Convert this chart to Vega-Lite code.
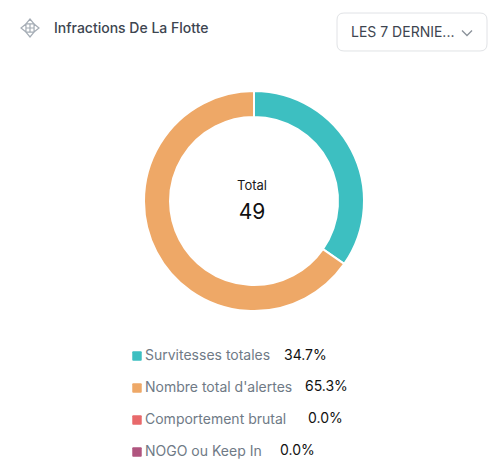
{"$schema":"https://vega.github.io/schema/vega-lite/v6.json","width":220,"height":220,"padding":{"left":144,"top":91,"right":135,"bottom":164},"autosize":"none","background":"white","config":{"view":{"stroke":null},"font":"Inter"},"title":{"text":"Infractions De La Flotte","anchor":"start","frame":"group","dx":-90,"offset":-25,"font":"Inter","fontSize":14,"fontWeight":500,"color":"#3d4550"},"datasets":{"cats":[{"name":"Survitesses totales","count":17,"pct":"34.7%","order":1},{"name":"Nombre total d'alertes","count":32,"pct":"65.3%","order":2},{"name":"Comportement brutal","count":0,"pct":"0.0%","order":3},{"name":"NOGO ou Keep In","count":0,"pct":"0.0%","order":4}]},"data":{"name":"cats"},"encoding":{},"layer":[{"mark":{"type":"arc","outerRadius":110,"innerRadius":84,"stroke":"white","strokeWidth":2},"encoding":{"theta":{"field":"count","type":"quantitative","stack":true,"scale":{"domain":[0,49]}},"order":{"field":"order","type":"quantitative"},"color":{"field":"name","type":"nominal","sort":["Survitesses totales","Nombre total d'alertes","Comportement brutal","NOGO ou Keep In"],"scale":{"domain":["Survitesses totales","Nombre total d'alertes","Comportement brutal","NOGO ou Keep In"],"range":["#3dbfc1","#eea867","#e8696b","#b0557f"]},"legend":{"orient":"none","legendX":-14,"legendY":258,"title":null,"symbolType":"M-0.8,-1H0.8Q1,-1 1,-0.8V0.8Q1,1 0.8,1H-0.8Q-1,1 -1,0.8V-0.8Q-1,-1 -0.8,-1Z","symbolSize":90,"symbolStrokeWidth":0,"symbolOpacity":1,"labelFont":"Inter","labelFontSize":14,"labelColor":"#6f7a86","labelOffset":1,"rowPadding":18,"labelLimit":200}}}},{"data":{"values":[{"label":"Total"}]},"mark":{"type":"text","dx":-2,"dy":-15,"fontSize":13,"color":"#1a1a1a","font":"Inter"},"encoding":{"text":{"field":"label"}}},{"data":{"values":[{"label":"49"}]},"mark":{"type":"text","dx":-2,"dy":12,"fontSize":21,"color":"#111111","font":"Inter"},"encoding":{"text":{"field":"label"}}},{"transform":[{"filter":"datum.order==1"}],"mark":{"type":"text","align":"left","dx":30,"dy":1,"fontSize":14,"color":"#111111","font":"Inter"},"encoding":{"y":{"field":"name","type":"nominal","sort":["Survitesses totales","Nombre total d'alertes","Comportement brutal","NOGO ou Keep In"],"scale":{"type":"point","domain":["Survitesses totales","Nombre total d'alertes","Comportement brutal","NOGO ou Keep In"],"range":[263.5,359],"padding":0},"axis":null},"text":{"field":"pct"}}},{"transform":[{"filter":"datum.order==2"}],"mark":{"type":"text","align":"left","dx":51,"dy":1,"fontSize":14,"color":"#111111","font":"Inter"},"encoding":{"y":{"field":"name","type":"nominal","axis":null},"text":{"field":"pct"}}},{"transform":[{"filter":"datum.order==3"}],"mark":{"type":"text","align":"left","dx":54,"dy":1,"fontSize":14,"color":"#111111","font":"Inter"},"encoding":{"y":{"field":"name","type":"nominal","axis":null},"text":{"field":"pct"}}},{"transform":[{"filter":"datum.order==4"}],"mark":{"type":"text","align":"left","dx":26,"dy":1,"fontSize":14,"color":"#111111","font":"Inter"},"encoding":{"y":{"field":"name","type":"nominal","axis":null},"text":{"field":"pct"}}},{"data":{"values":[{"label":"dropdown"}]},"mark":{"type":"point","shape":"M-0.907,-0.253H0.907Q1,-0.253 1,-0.16V0.16Q1,0.253 0.907,0.253H-0.907Q-1,0.253 -1,0.16V-0.16Q-1,-0.253 -0.907,-0.253Z","size":22500,"filled":false,"stroke":"#d5d8dc","strokeWidth":1,"xOffset":158,"yOffset":-169},"encoding":{}},{"data":{"values":[{"label":"LES 7 DERNIE..."}]},"mark":{"type":"text","align":"left","dx":97,"dy":-168,"fontSize":14,"color":"#3d4550","font":"Inter"},"encoding":{"text":{"field":"label"}}},{"data":{"values":[{"label":"chevron"}]},"mark":{"type":"point","shape":"M-1,-0.5L0,0.5L1,-0.5","size":100,"filled":false,"stroke":"#5a6470","strokeWidth":1.3,"xOffset":213,"yOffset":-168},"encoding":{}},{"data":{"values":[{"label":"icon"}]},"mark":{"type":"point","shape":"M-0.45,-0.45L0,-1L0.45,-0.45ZM-0.45,0.45L0,1L0.45,0.45ZM-0.45,-0.45L-1,0L-0.45,0.45ZM0.45,-0.45L1,0L0.45,0.45ZM-0.45,-0.45H0.45V0.45H-0.45ZM0,-0.45V0.45M-0.45,0H0.45","size":324,"filled":false,"stroke":"#7f8a96","strokeWidth":1.2,"xOffset":-224,"yOffset":-173},"encoding":{}}]}
